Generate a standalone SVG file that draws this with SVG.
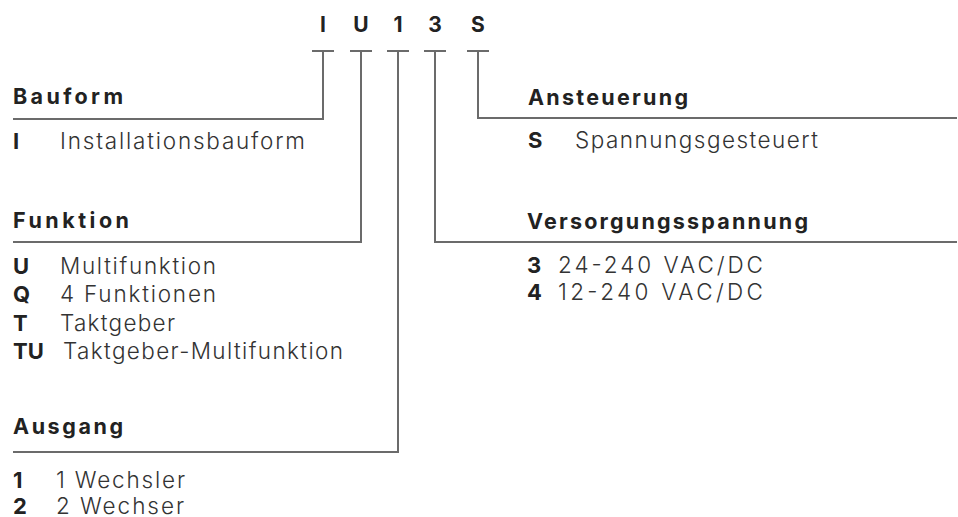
<svg xmlns="http://www.w3.org/2000/svg" width="958" height="517" viewBox="0 0 958 517">
<style>
.code{font-family:Inter,"Open Sans","Liberation Sans",sans-serif;font-weight:700;font-size:21px;fill:#222}
.head{font-family:Inter,"Open Sans","Liberation Sans",sans-serif;font-weight:700;font-size:21.5px;fill:#222}
.key{font-family:Inter,"Open Sans","Liberation Sans",sans-serif;font-weight:700;font-size:22px;fill:#222}
.desc{font-family:Inter,"Open Sans","Liberation Sans",sans-serif;font-weight:300;font-size:22.5px;fill:#333}
.ln{stroke:#6b6b6b;stroke-width:2;fill:none}
</style>
<rect width="958" height="517" fill="#fff"/>
<g id="code">
<text class="code" x="323" y="32" text-anchor="middle">I</text>
<text class="code" x="361" y="32" text-anchor="middle">U</text>
<text class="code" x="398" y="32" text-anchor="middle">1</text>
<text class="code" x="435" y="32" text-anchor="middle">3</text>
<text class="code" x="478" y="32" text-anchor="middle">S</text>
</g>
<g id="connectors">
<path class="ln" d="M312,51H334M323,51V119H13"/>
<path class="ln" d="M350,51H372M361,51V242H13"/>
<path class="ln" d="M387,51H409M398,51V452H13"/>
<path class="ln" d="M424,51H446M435,51V242H957"/>
<path class="ln" d="M467,51H489M478,51V118H957"/>
</g>
<g id="bauform">
<text class="head" x="13" y="104" textLength="110" lengthAdjust="spacing">Bauform</text>
<text class="key" x="13" y="149">I</text>
<text class="desc" x="60" y="149" textLength="245" lengthAdjust="spacing">Installationsbauform</text>
</g>
<g id="funktion">
<text class="head" x="13" y="228" textLength="116" lengthAdjust="spacing">Funktion</text>
<text class="key" x="13" y="274">U</text>
<text class="desc" x="60" y="274" textLength="156" lengthAdjust="spacing">Multifunktion</text>
<text class="key" x="13" y="302">Q</text>
<text class="desc" x="60" y="302" textLength="156" lengthAdjust="spacing">4 Funktionen</text>
<text class="key" x="13" y="331">T</text>
<text class="desc" x="60" y="331" textLength="115" lengthAdjust="spacing">Taktgeber</text>
<text class="key" x="13" y="359">TU</text>
<text class="desc" x="63" y="359" textLength="280" lengthAdjust="spacing">Taktgeber-Multifunktion</text>
</g>
<g id="ausgang">
<text class="head" x="13" y="434" textLength="110" lengthAdjust="spacing">Ausgang</text>
<text class="key" x="13" y="488">1</text>
<text class="desc" x="56" y="488" textLength="129" lengthAdjust="spacing">1 Wechsler</text>
<text class="key" x="13" y="514">2</text>
<text class="desc" x="56" y="514" textLength="128" lengthAdjust="spacing">2 Wechser</text>
</g>
<g id="ansteuerung">
<text class="head" x="528" y="105" textLength="160" lengthAdjust="spacing">Ansteuerung</text>
<text class="key" x="528" y="148">S</text>
<text class="desc" x="575" y="148" textLength="243" lengthAdjust="spacing">Spannungsgesteuert</text>
</g>
<g id="versorgung">
<text class="head" x="527" y="229" textLength="281" lengthAdjust="spacing">Versorgungsspannung</text>
<text class="key" x="527" y="273">3</text>
<text class="desc" x="558" y="273" textLength="205" lengthAdjust="spacing">24-240 VAC/DC</text>
<text class="key" x="527" y="300">4</text>
<text class="desc" x="558" y="300" textLength="205" lengthAdjust="spacing">12-240 VAC/DC</text>
</g>
</svg>
